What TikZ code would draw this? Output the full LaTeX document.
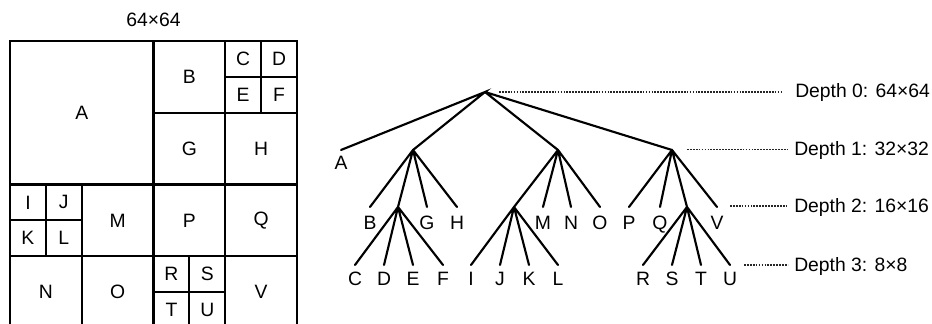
\documentclass[tikz,border=0pt]{standalone}
\usepackage{fontspec}
\setmainfont{Liberation Sans}
\begin{document}
\begin{tikzpicture}[x=0.75pt,y=-0.75pt,
  every node/.style={font=\fontsize{14.5}{17}\selectfont, inner sep=0pt},
  gridline/.style={line width=1.6pt, line cap=rect},
  edge/.style={line width=1.6pt, line cap=round},
  guide/.style={line width=0.8pt, black!85, dash pattern=on 1.3pt off 0.9pt},
  lbl/.style={anchor=base},
  dlbl/.style={anchor=base west}]
\useasboundingbox (0,0) rectangle (932,324);
\clip (0,0) rectangle (932,324);
\node (title) at (153.5,20) {64×64};
% ---- partition grid ----
\begin{scope}[shift={(10,41)}, x=3.3633pt, y=-3.3633pt]
  \draw[gridline] (0,0) rectangle (64,64);
  \draw[gridline] (32,0) -- (32,64);
  \draw[gridline] (48,0) -- (48,64);
  \draw[gridline] (0,32) -- (64,32);
  \draw[gridline] (0,48) -- (64,48);
  \draw[gridline] (32,16) -- (64,16);
  \draw[gridline] (48,8) -- (64,8);
  \draw[gridline] (56,0) -- (56,16);
  \draw[gridline] (0,40) -- (16,40);
  \draw[gridline] (8,32) -- (8,48);
  \draw[gridline] (16,32) -- (16,64);
  \draw[gridline] (32,56) -- (48,56);
  \draw[gridline] (40,48) -- (40,64);
  \node (gA) at (16,16) {A};
  \node (gB) at (40,8) {B};
  \node (gC) at (52,4) {C};
  \node (gD) at (60,4) {D};
  \node (gE) at (52,12) {E};
  \node (gF) at (60,12) {F};
  \node (gG) at (40,24) {G};
  \node (gH) at (56,24) {H};
  \node (gI) at (4,36) {I};
  \node (gJ) at (12,36) {J};
  \node (gK) at (4,44) {K};
  \node (gL) at (12,44) {L};
  \node (gM) at (24,40) {M};
  \node (gN) at (8,56) {N};
  \node (gO) at (24,56) {O};
  \node (gP) at (40,40) {P};
  \node (gQ) at (56,40) {Q};
  \node (gR) at (36,52) {R};
  \node (gS) at (44,52) {S};
  \node (gT) at (36,60) {T};
  \node (gU) at (44,60) {U};
  \node (gV) at (56,56) {V};
\end{scope}
% ---- tree ----
\coordinate (r) at (485,92);
\coordinate (tA) at (341,150);
\coordinate (n1) at (413,150);
\coordinate (n2) at (558,150);
\coordinate (n3) at (672,150);
\coordinate (tB) at (370,207);
\coordinate (n1a) at (398,207);
\coordinate (tG) at (427,207);
\coordinate (tH) at (457,207);
\coordinate (n2a) at (514,207);
\coordinate (tM) at (543,207);
\coordinate (tN) at (571,207);
\coordinate (tO) at (600,207);
\coordinate (tP) at (629,207);
\coordinate (tQ) at (660,207);
\coordinate (n3a) at (687,207);
\coordinate (tV) at (717,207);
\foreach \n/\x in {C/355,D/384,E/413,F/443,I/471,J/500,K/529,L/558,R/643,S/672,T/701,U/730}
  \coordinate (t\n) at (\x,265);
\draw[edge] (tA) -- (r) -- (n1) (r) -- (n2) (r) -- (n3);
\draw[edge] (n1) -- (tB) (n1) -- (n1a) (n1) -- (tG) (n1) -- (tH);
\draw[edge] (n2) -- (n2a) (n2) -- (tM) (n2) -- (tN) (n2) -- (tO);
\draw[edge] (n3) -- (tP) (n3) -- (tQ) (n3) -- (n3a) (n3) -- (tV);
\draw[edge] (n1a) -- (tC) (n1a) -- (tD) (n1a) -- (tE) (n1a) -- (tF);
\draw[edge] (n2a) -- (tI) (n2a) -- (tJ) (n2a) -- (tK) (n2a) -- (tL);
\draw[edge] (n3a) -- (tR) (n3a) -- (tS) (n3a) -- (tT) (n3a) -- (tU);
\node[lbl] (A) at (341,170) {A};
\foreach \n/\x in {B/370,G/427,H/457,M/543,N/571,O/600,P/629,Q/660,V/717}
  \node[lbl] (\n) at (\x,229.3) {\n};
\foreach \n/\x in {C/355,D/384,E/413,F/443,I/471,J/500,K/529,L/558,R/643,S/672,T/701,U/730}
  \node[lbl] (\n) at (\x,285) {\n};
% ---- depth guides ----
\node[dlbl] (d0) at (795,97.5) {Depth 0: 64×64};
\node[dlbl] (d1) at (794,155.8) {Depth 1: 32×32};
\node[dlbl] (d2) at (794,212.5) {Depth 2: 16×16};
\node[dlbl] (d3) at (794,271.5) {Depth 3: 8×8};
\coordinate (s0) at (499,92);   \coordinate (e0) at (782,92);
\coordinate (s1) at (687,149.3); \coordinate (e1) at (788,149.3);
\coordinate (s2) at (730,206);  \coordinate (e2) at (788,206);
\coordinate (s3) at (744,265);  \coordinate (e3) at (788,265);
\draw[guide] (s0) -- (e0);
\draw[guide] (s1) -- (e1);
\draw[guide] (s2) -- (e2);
\draw[guide] (s3) -- (e3);
\end{tikzpicture}
\end{document}
